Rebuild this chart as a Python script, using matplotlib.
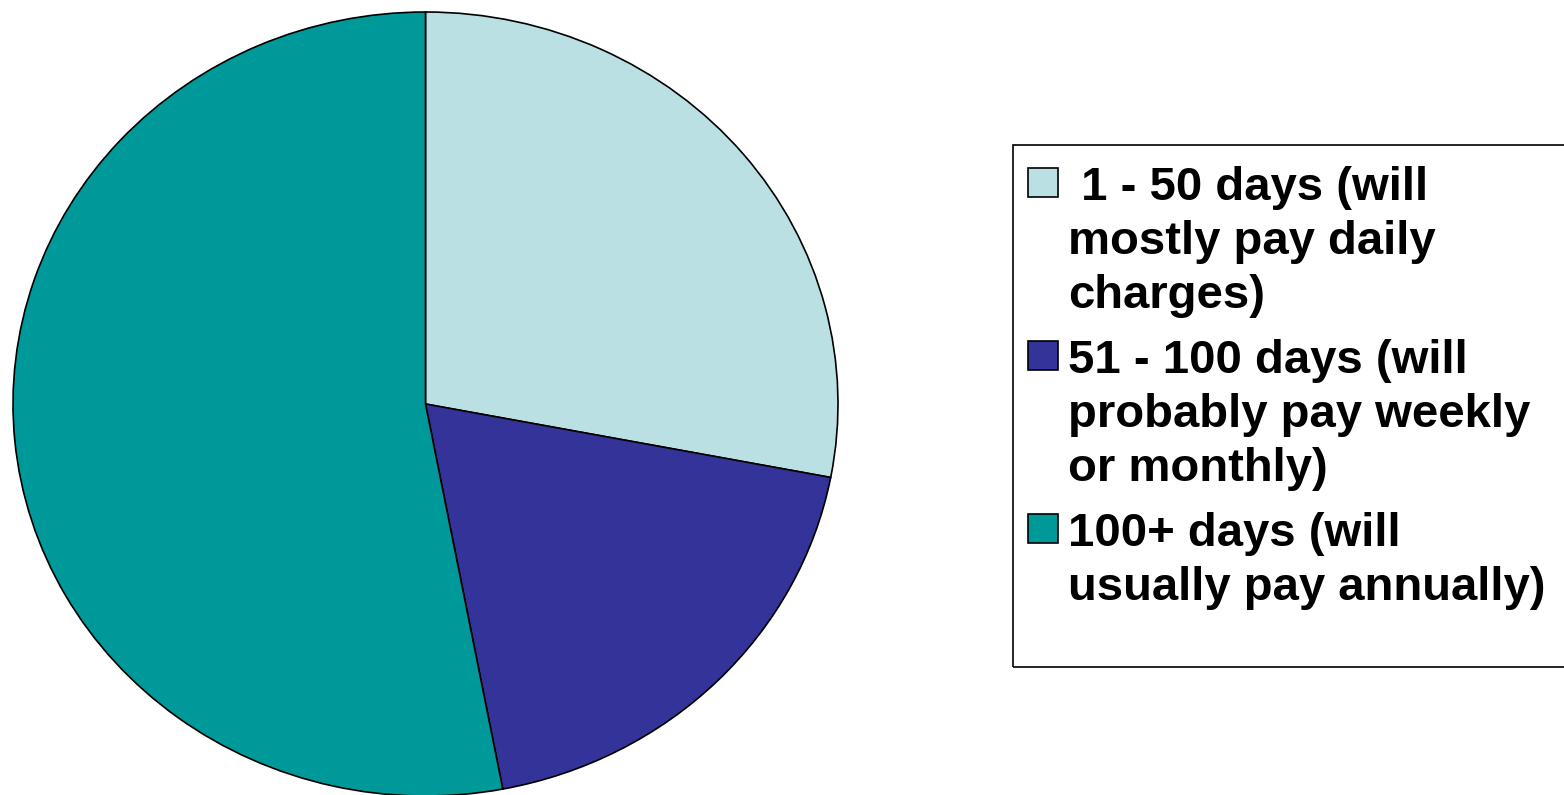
import matplotlib
matplotlib.use("Agg")
import matplotlib.pyplot as plt
from matplotlib.patches import Rectangle

# Data
labels = [" 1 - 50 days (will\nmostly pay daily\ncharges)",
          "51 - 100 days (will\nprobably pay weekly\nor monthly)",
          "100+ days (will\nusually pay annually)"]
values = [28, 19, 53]
colors = ["#BBE0E3", "#333399", "#009999"]

W, H = 1564, 795
fig = plt.figure(figsize=(W / 100, H / 100), dpi=100)

def fx(px):
    return px / W

def fy(py):
    # py measured from the top of the image
    return (H - py) / H

# pie axes (slightly wider than tall, like the original)
ax = fig.add_axes([fx(13), fy(796), fx(825), 784 / H])
wedges, _ = ax.pie(values, colors=colors, startangle=90, counterclock=False,
                   wedgeprops=dict(edgecolor="black", linewidth=1.2))
ax.set_xlim(-1, 1)
ax.set_ylim(-1, 1)
ax.set_aspect("auto")
ax.axis("off")

# legend frame, runs off the right edge
fig.patches.append(Rectangle((fx(1013), fy(667)), fx(600), 522 / H,
                             transform=fig.transFigure, fill=False,
                             edgecolor="black", linewidth=1.2, clip_on=False))

# legend entries drawn by hand so the swatch sits on the first line
font = dict(family="Liberation Sans", weight="bold", size=34)
baseline = 200
line_gap = 54
entry_gap = 11
for lab, col in zip(labels, colors):
    fig.patches.append(Rectangle((fx(1028), fy(baseline - 3)), fx(30), 29 / H,
                                 transform=fig.transFigure, facecolor=col,
                                 edgecolor="black", linewidth=1.2))
    lines = lab.split("\n")
    for i, ln in enumerate(lines):
        fig.text(fx(1068), fy(baseline + i * line_gap), ln, ha="left",
                 va="baseline", **font)
    baseline += len(lines) * line_gap + entry_gap

fig.savefig("out.png", dpi=100)
